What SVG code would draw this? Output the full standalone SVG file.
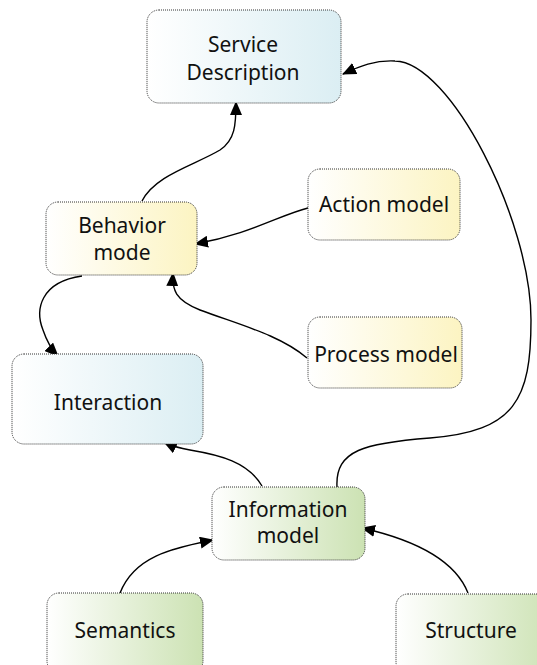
<svg xmlns="http://www.w3.org/2000/svg" width="537" height="665" viewBox="0 0 537 665">
<defs>
<linearGradient id="gBlue" x1="0" y1="0" x2="1" y2="0"><stop offset="0" stop-color="#ffffff"/><stop offset="1" stop-color="#dbeef3"/></linearGradient>
<linearGradient id="gYel" x1="0" y1="0" x2="1" y2="0"><stop offset="0" stop-color="#ffffff"/><stop offset="1" stop-color="#fcf4c2"/></linearGradient>
<linearGradient id="gGrn" x1="0" y1="0" x2="1" y2="0"><stop offset="0" stop-color="#ffffff"/><stop offset="1" stop-color="#cce2b3"/></linearGradient>
<marker id="arr" markerUnits="userSpaceOnUse" markerWidth="15" markerHeight="12" refX="13" refY="6" orient="auto">
<path d="M0,0 L14,6 L0,12 Z" fill="#000"/>
</marker>
</defs>
<style>
.box{stroke:#333;stroke-width:1;stroke-dasharray:1 1}
.b{fill:url(#gBlue)} .y{fill:url(#gYel)} .g{fill:url(#gGrn)}
text{font-family:"Noto Sans","Open Sans",sans-serif;font-size:21px;fill:#111;text-anchor:middle}
.c{fill:none;stroke:#000;stroke-width:1.4;marker-end:url(#arr)}
</style>
<g id="connectors">
<path class="c" d="M142,201 C155,175 195,165 220,150 C235,140 236,125 236,102"/>
<path class="c" d="M308,208 C280,215 250,234 195,244"/>
<path class="c" d="M307,358 C280,335 240,325 200,310 C175,300 172,290 173,273"/>
<path class="c" d="M82,276 C40,282 35,310 43,330 C47,342 52,350 58,356"/>
<path class="c" d="M262,486 C248,462 220,455 190,450 C178,448 172,446 164,442"/>
<path class="c" d="M337,487 C335,450 365,443 430,438 C515,431 531,400 531,320 C531,220 450,62 395,61 C375,60 360,66 343,74"/>
<path class="c" d="M120,593 C135,555 175,548 213,540"/>
<path class="c" d="M468,593 C455,560 415,540 362,528"/>
</g>
<g id="service-description"><rect class="box b" x="147" y="10" width="194" height="93" rx="12"/><text x="243" y="52">Service</text><text x="243" y="80">Description</text></g>
<g id="behavior-mode"><rect class="box y" x="46" y="202" width="151" height="73" rx="12"/><text x="122" y="233">Behavior</text><text x="122" y="260">mode</text></g>
<g id="action-model"><rect class="box y" x="308" y="169" width="152" height="71" rx="12"/><text x="384" y="212">Action model</text></g>
<g id="process-model"><rect class="box y" x="308" y="317" width="154" height="71" rx="12"/><text x="386" y="362">Process model</text></g>
<g id="interaction"><rect class="box b" x="12" y="354" width="191" height="90" rx="12"/><text x="108" y="410">Interaction</text></g>
<g id="information-model"><rect class="box g" x="212" y="487" width="153" height="73" rx="12"/><text x="288" y="517">Information</text><text x="288" y="543">model</text></g>
<g id="semantics"><rect class="box g" x="47" y="593" width="156" height="80" rx="12"/><text x="125" y="638">Semantics</text></g>
<g id="structure"><rect class="box g" x="396" y="594" width="160" height="80" rx="12"/><text x="471" y="638">Structure</text></g>
</svg>
